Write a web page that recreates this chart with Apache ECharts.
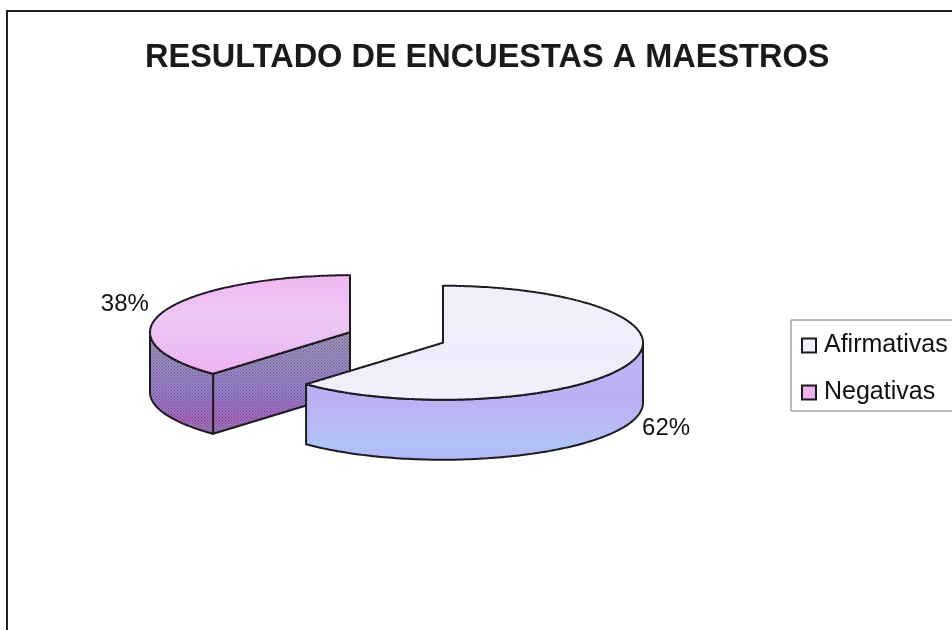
<!DOCTYPE html>
<html>
<head>
<meta charset="utf-8">
<title>Resultado de encuestas a maestros</title>
<style>
html, body { margin: 0; padding: 0; background: #fff; }
#chart { width: 952px; height: 630px; }
</style>
<script src="https://cdn.jsdelivr.net/npm/echarts@6/dist/echarts.min.js"></script>
</head>
<body>
<div id="chart"></div>
<script>
var chartTitle = 'RESULTADO DE ENCUESTAS A MAESTROS';
var categories = ['Afirmativas', 'Negativas'];
var values = [62, 38];

// geometria del pastel 3D
var CX = 396.5, CY = 337.5, RX = 200, RY = 57, DEPTH = 60, EXPLODE = 50;
var LINE = '#1c1a1e';

var total = values[0] + values[1];

function pointAt(cx, cy, a, k) {
	return [cx + Math.sin(a) * RX * k, cy - Math.cos(a) * RY * k];
}
function arcPoints(cx, cy, a0, a1) {
	var pts = [];
	var n = Math.max(2, Math.ceil((a1 - a0) / 0.02));
	for (var i = 0; i <= n; i++) {
		pts.push(pointAt(cx, cy, a0 + (a1 - a0) * i / n, 1));
	}
	return pts;
}
function shifted(pts) {
	return pts.map(function(p) { return [p[0], p[1] + DEPTH]; }).reverse();
}
function vgrad(stops) {
	return {
		type: 'linear', x: 0, y: 0, x2: 0, y2: 1,
		colorStops: stops.map(function(s) { return { offset: s[0], color: s[1] }; })
	};
}

// punteado del escaneo
function stipple(color, size) {
	var c = document.createElement('canvas');
	c.width = c.height = size;
	var g = c.getContext('2d');
	g.fillStyle = color;
	g.fillRect(0, 0, 1, 1);
	g.fillRect(size / 2, size / 2, 1, 1);
	return { image: c, repeat: 'repeat' };
}

var styles = [
	{
		top: vgrad([[0, '#eff0fc'], [0.6, '#eeecfb'], [1, '#f3eefb']]),
		side: vgrad([[0, '#c4b8f6'], [0.45, '#bdb0f3'], [0.68, '#bcbaf6'], [0.85, '#afc6f9'], [1, '#b8b6f6']]),
		dots: stipple('rgba(255,255,255,0.28)', 4),
		sideDots: stipple('rgba(120,110,200,0.18)', 4)
	},
	{
		top: vgrad([[0, '#f0b4f2'], [0.4, '#eec4f4'], [0.7, '#e9bcf4'], [1, '#f2aef0']]),
		side: vgrad([[0, '#a094b8'], [0.35, '#9a88c6'], [0.6, '#9a7ccc'], [0.85, '#a868c0'], [1, '#9a80b8']]),
		dots: stipple('rgba(255,255,255,0.3)', 4),
		sideDots: stipple('rgba(40,40,50,0.45)', 3)
	}
];

function sliceItem(idx) {
	return function(params, api) {
		var start = 0;
		for (var i = 0; i < idx; i++) start += values[i];
		var a0 = start / total * Math.PI * 2;
		var a1 = (start + api.value(0)) / total * Math.PI * 2;
		var mid = (a0 + a1) / 2;
		var cx = CX + Math.sin(mid) * EXPLODE;
		var cy = CY - Math.cos(mid) * EXPLODE * RY / RX;
		var st = styles[idx];
		var kids = [];

		function face(points, fill, dots) {
			kids.push({ type: 'polygon', shape: { points: points }, style: { fill: fill, stroke: LINE, lineWidth: 2, lineJoin: 'round' } });
			kids.push({ type: 'polygon', shape: { points: points }, silent: true, style: { fill: dots } });
		}

		// cara radial visible (solo si el corte mira al frente)
		if (idx === 1) {
			var corner = pointAt(cx, cy, a0, 1);
			face([corner, [cx, cy], [cx, cy + DEPTH], [corner[0], corner[1] + DEPTH]], st.side, st.sideDots);
		}
		// borde frontal
		var f0 = Math.max(a0, Math.PI / 2), f1 = Math.min(a1, Math.PI * 1.5);
		if (f1 > f0) {
			var rim = arcPoints(cx, cy, f0, f1);
			face(rim.concat(shifted(rim)), st.side, st.sideDots);
		}
		// tapa
		face([[cx, cy]].concat(arcPoints(cx, cy, a0, a1)), st.top, st.dots);

		// etiqueta de porcentaje
		var lp = pointAt(cx, cy, mid, 1.2);
		var front = Math.cos(mid) < 0;
		kids.push({
			type: 'text',
			x: lp[0] - (front ? 0 : 2),
			y: lp[1] + (front ? DEPTH : -3),
			style: {
				text: Math.round(api.value(0) / total * 100) + '%',
				fontFamily: 'Liberation Sans',
				fontSize: 24,
				fill: '#111',
				align: 'center',
				verticalAlign: 'middle'
			}
		});
		return { type: 'group', children: kids };
	};
}

var chart = echarts.init(document.getElementById('chart'), null, { renderer: 'canvas' });
chart.setOption({
	backgroundColor: '#ffffff',
	animation: false,
	title: {
		text: chartTitle,
		left: 145,
		top: 42,
		padding: 0,
		textStyle: { fontFamily: 'Liberation Sans', fontWeight: 'bold', fontSize: 32.5, color: '#1a1a1a' }
	},
	legend: {
		orient: 'vertical',
		left: 791,
		top: 320,
		padding: [13, 40, 6, 10],
		itemGap: 22,
		itemWidth: 14,
		itemHeight: 14,
		borderColor: '#777',
		borderWidth: 1,
		textStyle: { fontFamily: 'Liberation Sans', fontSize: 25, color: '#111', padding: [0, 0, 0, 3] },
		selectedMode: false,
		data: [
			{ name: categories[0], icon: 'rect', itemStyle: { color: '#eff0fc', borderColor: LINE, borderWidth: 2 } },
			{ name: categories[1], icon: 'rect', itemStyle: { color: '#eeb0ee', borderColor: LINE, borderWidth: 2 } }
		]
	},
	graphic: [
		// marco del grafico, se sale por la derecha y por abajo
		{ type: 'polyline', silent: true, shape: { points: [[7, 640], [7, 11], [960, 11]] }, style: { stroke: '#222', lineWidth: 2, fill: null } }
	],
	series: [
		{ type: 'custom', name: categories[1], coordinateSystem: 'none', renderItem: sliceItem(1), data: [[values[1]]], z: 2 },
		{ type: 'custom', name: categories[0], coordinateSystem: 'none', renderItem: sliceItem(0), data: [[values[0]]], z: 3 }
	]
});
</script>
</body>
</html>
